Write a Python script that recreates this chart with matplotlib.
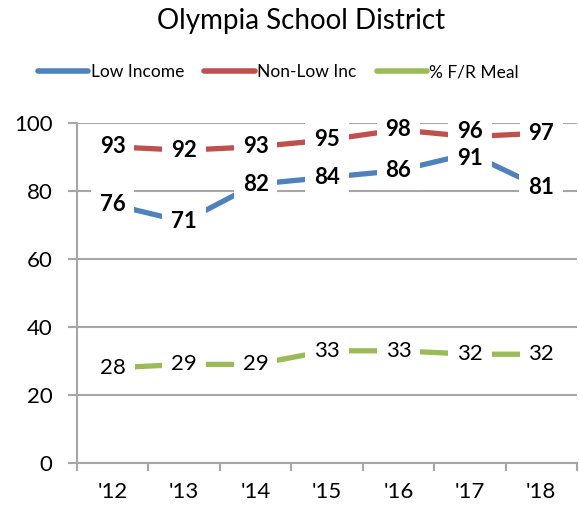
import matplotlib
matplotlib.use("Agg")
import matplotlib.pyplot as plt
from matplotlib.ticker import FixedLocator

plt.rcParams['font.family'] = ['Lato', 'DejaVu Sans']

years = ["'12", "'13", "'14", "'15", "'16", "'17", "'18"]
low_income = [76, 71, 82, 84, 86, 91, 81]
non_low_inc = [93, 92, 93, 95, 98, 96, 97]
fr_meal = [28, 29, 29, 33, 33, 32, 32]
series_names = ["Low Income", "Non-Low Inc", "% F/R Meal"]
colors = ["#4F81BD", "#C0504D", "#9BBB59"]

W, H = 579, 508
ax_h_px = 340
fig = plt.figure(figsize=(W / 100, H / 100), dpi=100)
ax = fig.add_axes([77 / W, 45 / H, 500 / W, ax_h_px / H])
ax.set_ylim(0, 100)
ax.set_xlim(-0.5, len(years) - 0.5)

x = list(range(len(years)))
series = [low_income, non_low_inc, fr_meal]
bold = [True, True, False]
for vals, name, c in zip(series, series_names, colors):
    ax.plot(x, vals, color=c, lw=3.8, label=name, solid_capstyle='butt', zorder=3, clip_on=False)

# nudge labels of neighbouring series apart when they would collide
px_per_unit = ax_h_px / 100.0
min_sep_px = 26
offsets = [[0.0] * len(x) for _ in series]
for i in range(len(x)):
    a, b = series[0][i], series[1][i]
    sep = abs(b - a) * px_per_unit
    if sep < min_sep_px:
        push = (min_sep_px - sep) / 2 * 0.75  # px -> pt
        sgn = 1 if b >= a else -1
        offsets[1][i] = sgn * push
        offsets[0][i] = -sgn * push

def label(xi, v, off, b, **kw):
    return ax.annotate(str(v), (xi, v), xytext=(0, off), textcoords='offset points',
                       ha='center', va='center', fontsize=16,
                       fontweight='bold' if b else 'normal', **kw)

# pass 1: white boxes behind labels (cover lines and gridlines)
for vals, b, offs in zip(series, bold, offsets):
    for xi, v, off in zip(x, vals, offs):
        label(xi, v, off, b, color='white', alpha=0.0, zorder=4,
              bbox=dict(boxstyle='square,pad=0.4', fc='white', ec='none', alpha=1.0))
# pass 2: label texts on top
for vals, b, offs in zip(series, bold, offsets):
    for xi, v, off in zip(x, vals, offs):
        label(xi, v, off, b, color='black', zorder=6)

ax.set_yticks([0, 20, 40, 60, 80, 100])
ax.set_yticklabels(['0', '20', '40', '60', '80', '100'], fontsize=16)
ax.set_xticks(x)
ax.set_xticklabels(years, fontsize=16)
ax.xaxis.set_minor_locator(FixedLocator([i - 0.5 for i in range(len(years) + 1)]))
ax.tick_params(axis='x', which='major', length=0, pad=14)
ax.tick_params(axis='x', which='minor', length=6, width=1.5, color='#A6A6A6', direction='out')
ax.tick_params(axis='y', length=6.5, width=1.5, color='#A6A6A6', direction='out', pad=11)

ax.grid(axis='y', color='#A6A6A6', lw=1.5, zorder=1)
ax.set_axisbelow(True)
for s in ['top', 'right']:
    ax.spines[s].set_visible(False)
for s in ['left', 'bottom']:
    ax.spines[s].set_color('#A6A6A6')
    ax.spines[s].set_linewidth(1.5)

fig.text(0.52, 1 - 21 / H, "Olympia School District", ha='center', va='center', fontsize=20)
leg = fig.legend(loc='center', bbox_to_anchor=(0.481, 1 - 72 / H), ncol=3, frameon=False,
                 fontsize=12.5, handlelength=2.9, handletextpad=0.15, columnspacing=1.15)
for h in leg.legend_handles:
    h.set_linewidth(4)
    h.set_solid_capstyle('round')

fig.savefig('out.png', dpi=100)
